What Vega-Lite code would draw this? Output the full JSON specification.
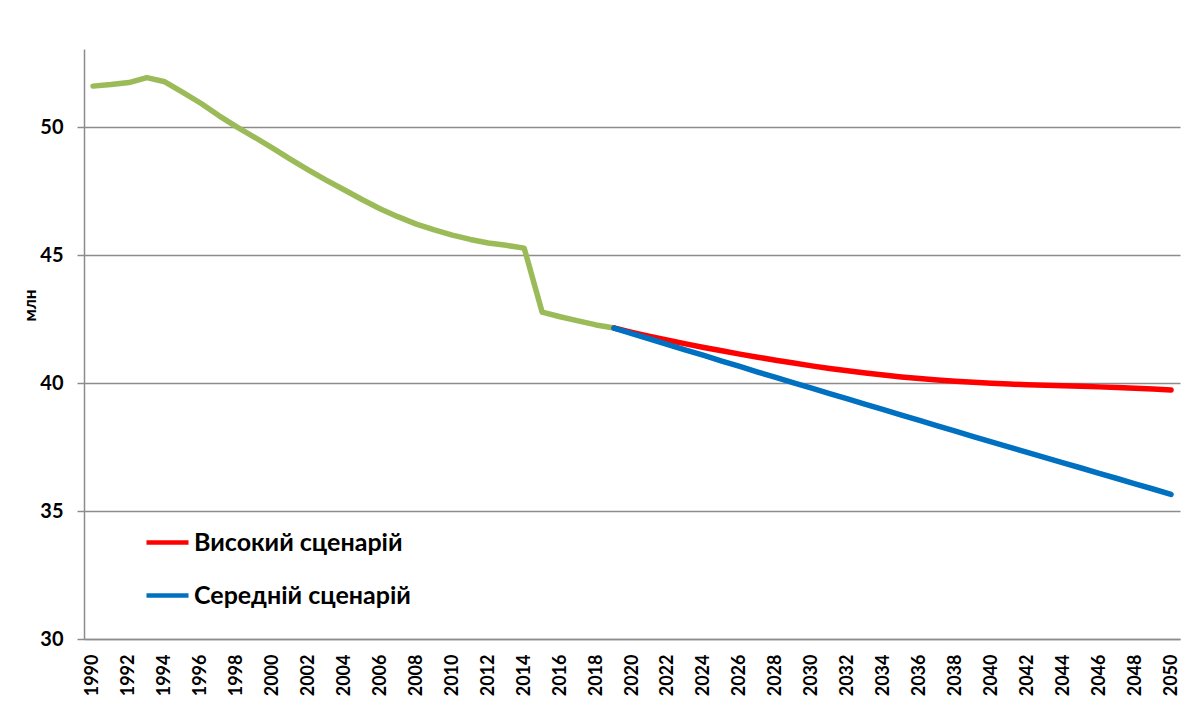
{
  "$schema": "https://vega.github.io/schema/vega-lite/v6.json",
  "width": 1096,
  "height": 590,
  "autosize": {"type": "none"},
  "padding": {"left": 84, "top": 49, "right": 18, "bottom": 62},
  "background": "white",
  "config": {
    "view": {"stroke": null},
    "font": "Lato"
  },
  "data": {
    "values": [
      {"year": 1990, "series": "Факт", "value": 51.60},
      {"year": 1991, "series": "Факт", "value": 51.66},
      {"year": 1992, "series": "Факт", "value": 51.74},
      {"year": 1993, "series": "Факт", "value": 51.93},
      {"year": 1994, "series": "Факт", "value": 51.77},
      {"year": 1995, "series": "Факт", "value": 51.36},
      {"year": 1996, "series": "Факт", "value": 50.93},
      {"year": 1997, "series": "Факт", "value": 50.45},
      {"year": 1998, "series": "Факт", "value": 50.01},
      {"year": 1999, "series": "Факт", "value": 49.60},
      {"year": 2000, "series": "Факт", "value": 49.18},
      {"year": 2001, "series": "Факт", "value": 48.74},
      {"year": 2002, "series": "Факт", "value": 48.32},
      {"year": 2003, "series": "Факт", "value": 47.92},
      {"year": 2004, "series": "Факт", "value": 47.54},
      {"year": 2005, "series": "Факт", "value": 47.16},
      {"year": 2006, "series": "Факт", "value": 46.80},
      {"year": 2007, "series": "Факт", "value": 46.49},
      {"year": 2008, "series": "Факт", "value": 46.21},
      {"year": 2009, "series": "Факт", "value": 45.98},
      {"year": 2010, "series": "Факт", "value": 45.78},
      {"year": 2011, "series": "Факт", "value": 45.61},
      {"year": 2012, "series": "Факт", "value": 45.47},
      {"year": 2013, "series": "Факт", "value": 45.38},
      {"year": 2014, "series": "Факт", "value": 45.27},
      {"year": 2015, "series": "Факт", "value": 42.77},
      {"year": 2016, "series": "Факт", "value": 42.59},
      {"year": 2017, "series": "Факт", "value": 42.43},
      {"year": 2018, "series": "Факт", "value": 42.27},
      {"year": 2019, "series": "Факт", "value": 42.15},
      {"year": 2019, "series": "Високий сценарій", "value": 42.15},
      {"year": 2020, "series": "Високий сценарій", "value": 41.98},
      {"year": 2021, "series": "Високий сценарій", "value": 41.82},
      {"year": 2022, "series": "Високий сценарій", "value": 41.67},
      {"year": 2023, "series": "Високий сценарій", "value": 41.53},
      {"year": 2024, "series": "Високий сценарій", "value": 41.39},
      {"year": 2025, "series": "Високий сценарій", "value": 41.26},
      {"year": 2026, "series": "Високий сценарій", "value": 41.13},
      {"year": 2027, "series": "Високий сценарій", "value": 41.01},
      {"year": 2028, "series": "Високий сценарій", "value": 40.89},
      {"year": 2029, "series": "Високий сценарій", "value": 40.78},
      {"year": 2030, "series": "Високий сценарій", "value": 40.67},
      {"year": 2031, "series": "Високий сценарій", "value": 40.57},
      {"year": 2032, "series": "Високий сценарій", "value": 40.48},
      {"year": 2033, "series": "Високий сценарій", "value": 40.39},
      {"year": 2034, "series": "Високий сценарій", "value": 40.31},
      {"year": 2035, "series": "Високий сценарій", "value": 40.24},
      {"year": 2036, "series": "Високий сценарій", "value": 40.18},
      {"year": 2037, "series": "Високий сценарій", "value": 40.12},
      {"year": 2038, "series": "Високий сценарій", "value": 40.07},
      {"year": 2039, "series": "Високий сценарій", "value": 40.03},
      {"year": 2040, "series": "Високий сценарій", "value": 39.99},
      {"year": 2041, "series": "Високий сценарій", "value": 39.96},
      {"year": 2042, "series": "Високий сценарій", "value": 39.93},
      {"year": 2043, "series": "Високий сценарій", "value": 39.91},
      {"year": 2044, "series": "Високий сценарій", "value": 39.89},
      {"year": 2045, "series": "Високий сценарій", "value": 39.87},
      {"year": 2046, "series": "Високий сценарій", "value": 39.85},
      {"year": 2047, "series": "Високий сценарій", "value": 39.83},
      {"year": 2048, "series": "Високий сценарій", "value": 39.80},
      {"year": 2049, "series": "Високий сценарій", "value": 39.77},
      {"year": 2050, "series": "Високий сценарій", "value": 39.73},
      {"year": 2019, "series": "Середній сценарій", "value": 42.15},
      {"year": 2020, "series": "Середній сценарій", "value": 41.93},
      {"year": 2021, "series": "Середній сценарій", "value": 41.72},
      {"year": 2022, "series": "Середній сценарій", "value": 41.50},
      {"year": 2023, "series": "Середній сценарій", "value": 41.29},
      {"year": 2024, "series": "Середній сценарій", "value": 41.08},
      {"year": 2025, "series": "Середній сценарій", "value": 40.86},
      {"year": 2026, "series": "Середній сценарій", "value": 40.65},
      {"year": 2027, "series": "Середній сценарій", "value": 40.43},
      {"year": 2028, "series": "Середній сценарій", "value": 40.22},
      {"year": 2029, "series": "Середній сценарій", "value": 40.01},
      {"year": 2030, "series": "Середній сценарій", "value": 39.80},
      {"year": 2031, "series": "Середній сценарій", "value": 39.59},
      {"year": 2032, "series": "Середній сценарій", "value": 39.38},
      {"year": 2033, "series": "Середній сценарій", "value": 39.17},
      {"year": 2034, "series": "Середній сценарій", "value": 38.96},
      {"year": 2035, "series": "Середній сценарій", "value": 38.75},
      {"year": 2036, "series": "Середній сценарій", "value": 38.54},
      {"year": 2037, "series": "Середній сценарій", "value": 38.33},
      {"year": 2038, "series": "Середній сценарій", "value": 38.12},
      {"year": 2039, "series": "Середній сценарій", "value": 37.91},
      {"year": 2040, "series": "Середній сценарій", "value": 37.70},
      {"year": 2041, "series": "Середній сценарій", "value": 37.50},
      {"year": 2042, "series": "Середній сценарій", "value": 37.29},
      {"year": 2043, "series": "Середній сценарій", "value": 37.09},
      {"year": 2044, "series": "Середній сценарій", "value": 36.88},
      {"year": 2045, "series": "Середній сценарій", "value": 36.68},
      {"year": 2046, "series": "Середній сценарій", "value": 36.47},
      {"year": 2047, "series": "Середній сценарій", "value": 36.27},
      {"year": 2048, "series": "Середній сценарій", "value": 36.06},
      {"year": 2049, "series": "Середній сценарій", "value": 35.86},
      {"year": 2050, "series": "Середній сценарій", "value": 35.65}
    ]
  },
  "mark": {"type": "line", "strokeWidth": 5.5, "strokeCap": "round", "strokeJoin": "round"},
  "encoding": {
    "x": {
      "field": "year",
      "type": "ordinal",
      "sort": "ascending",
      "scale": {"type": "point", "padding": 0.5},
      "axis": {
        "title": null,
        "values": [1990,1992,1994,1996,1998,2000,2002,2004,2006,2008,2010,2012,2014,2016,2018,2020,2022,2024,2026,2028,2030,2032,2034,2036,2038,2040,2042,2044,2046,2048,2050],
        "labelAngle": -90,
        "labelAlign": "right",
        "labelBaseline": "middle",
        "labelFontSize": 18,
        "labelFontWeight": "bold",
        "labelColor": "black",
        "labelPadding": 15,
        "ticks": false,
        "domainColor": "#8c8c8c",
        "domainWidth": 1.5,
        "grid": false
      }
    },
    "y": {
      "field": "value",
      "type": "quantitative",
      "scale": {"domain": [30, 53.05], "nice": false, "zero": false},
      "axis": {
        "title": "млн",
        "titleFontSize": 17,
        "titleFontWeight": "bold",
        "titleColor": "black",
        "titleAngle": -90,
        "titleX": -54,
        "titleY": 256,
        "titleAlign": "center",
        "titleBaseline": "middle",
        "values": [30, 35, 40, 45, 50],
        "labelFontSize": 20,
        "labelFontWeight": "bold",
        "labelColor": "black",
        "labelPadding": 14,
        "tickSize": 7,
        "tickColor": "#8c8c8c",
        "tickWidth": 1.5,
        "domainColor": "#8c8c8c",
        "domainWidth": 1.5,
        "grid": true,
        "gridColor": "#8c8c8c",
        "gridWidth": 1.5
      }
    },
    "color": {
      "field": "series",
      "type": "nominal",
      "sort": null,
      "scale": {
        "domain": ["Факт", "Високий сценарій", "Середній сценарій"],
        "range": ["#9BBB59", "#FF0000", "#0070C0"]
      },
      "legend": {
        "title": null,
        "values": ["Високий сценарій", "Середній сценарій"],
        "orient": "none",
        "legendX": 60,
        "legendY": 470,
        "symbolType": "stroke",
        "symbolSize": 1764,
        "symbolStrokeWidth": 4.5,
        "labelFontSize": 25,
        "labelFontWeight": "bold",
        "labelColor": "black",
        "labelLimit": 500,
        "labelOffset": 3,
        "rowPadding": 16
      }
    }
  }
}
